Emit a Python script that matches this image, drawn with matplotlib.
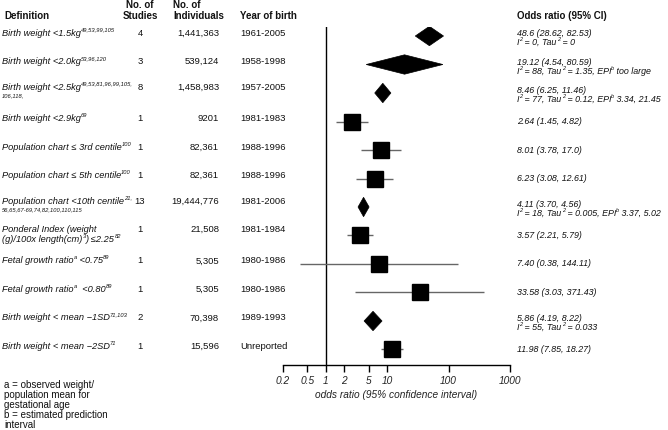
import re
import matplotlib
matplotlib.use("Agg")
import matplotlib.pyplot as plt
import matplotlib.transforms as mtransforms
from matplotlib.patches import Polygon
import numpy as np

# ---------------- data ----------------
definitions = [
    "Birth weight <1.5kg^{49,53,99,105}",
    "Birth weight <2.0kg^{53,96,120}",
    "Birth weight <2.5kg^{49,53,81,96,99,105,}",
    "Birth weight <2.9kg^{69}",
    "Population chart \u2264 3rd centile^{100}",
    "Population chart \u2264 5th centile^{100}",
    "Population chart <10th centile^{21,}",
    "Ponderal Index (weight",
    "Fetal growth ratio^{a} <0.75^{89}",
    "Fetal growth ratio^{a}  <0.80^{89}",
    "Birth weight < mean \u22121SD^{71,103}",
    "Birth weight < mean \u22122SD^{71}",
]
definitions_line2 = ["", "", "^{106,118,}", "", "", "", "^{56,65,67-69,74,82,100,110,115}",
                     "(g)/100x length(cm)^{3}) \u22642.25^{82}", "", "", "", ""]
n_studies = ["4", "3", "8", "1", "1", "1", "13", "1", "1", "1", "2", "1"]
n_individuals = ["1,441,363", "539,124", "1,458,983", "9201", "82,361", "82,361",
                 "19,444,776", "21,508", "5,305", "5,305", "70,398", "15,596"]
year_of_birth = ["1961-2005", "1958-1998", "1957-2005", "1981-1983", "1988-1996", "1988-1996",
                 "1981-2006", "1981-1984", "1980-1986", "1980-1986", "1989-1993", "Unreported"]
odds_ratio = [48.6, 19.12, 8.46, 2.64, 8.01, 6.23, 4.11, 3.57, 7.40, 33.58, 5.86, 11.98]
ci_low = [28.62, 4.54, 6.25, 1.45, 3.78, 3.08, 3.70, 2.21, 0.38, 3.03, 4.19, 7.85]
ci_high = [82.53, 80.59, 11.46, 4.82, 17.0, 12.61, 4.56, 5.79, 144.11, 371.43, 8.22, 18.27]
or_text = ["48.6 (28.62, 82.53)", "19.12 (4.54, 80.59)", "8.46 (6.25, 11.46)", "2.64 (1.45, 4.82)",
           "8.01 (3.78, 17.0)", "6.23 (3.08, 12.61)", "4.11 (3.70, 4.56)", "3.57 (2.21, 5.79)",
           "7.40 (0.38, 144.11)", "33.58 (3.03, 371.43)", "5.86 (4.19, 8.22)", "11.98 (7.85, 18.27)"]
heterogeneity = ["I^{2} = 0, Tau^{2} = 0",
                 "I^{2} = 88, Tau^{2} = 1.35, EPI^{b} too large",
                 "I^{2} = 77, Tau^{2} = 0.12, EPI^{b} 3.34, 21.45",
                 "", "", "",
                 "I^{2} = 18, Tau^{2} = 0.005, EPI^{b} 3.37, 5.02",
                 "", "", "",
                 "I^{2} = 55, Tau^{2} = 0.033",
                 ""]
is_pooled = [True, True, True, False, False, False, True, False, False, False, True, False]
x_ticks = [0.2, 0.5, 1, 2, 5, 10, 100, 1000]
x_tick_labels = ["0.2", "0.5", "1", "2", "5", "10", "100", "1000"]
footnotes = ["a = observed weight/", "population mean for", "gestational age",
             "b = estimated prediction", "interval"]

# ---------------- figure ----------------
plt.rcParams['font.family'] = ['Liberation Sans', 'DejaVu Sans']
W, H = 668, 430
fig = plt.figure(figsize=(W / 100, H / 100), dpi=100)
ident = mtransforms.IdentityTransform()
renderer = fig.canvas.get_renderer()

LABEL_FS = 6.7
NUM_FS = 6.8
RIGHT_FS = 6.4
TXT = '#111111'

nrows = len(definitions)
ax = fig.add_axes([283 / W, 1 - 365 / H, (510 - 283) / W, (365 - 27) / H])
ax.set_xscale('log')
ax.set_xlim(0.2, 1000)
ax.set_ylim(11.544, -0.316)
for s in ['top', 'right', 'left']:
    ax.spines[s].set_visible(False)
ax.spines['bottom'].set_linewidth(1.0)
ax.set_yticks([])
ax.set_xticks(x_ticks)
ax.set_xticklabels(x_tick_labels, fontstyle='italic', fontsize=7.3, color='#222222')
ax.xaxis.set_minor_locator(matplotlib.ticker.NullLocator())
ax.tick_params(axis='x', direction='out', length=5, width=1.0, pad=3)
ax.set_xlabel("odds ratio (95% confidence interval)", fontstyle='italic', fontsize=7.3,
              color='#222222', labelpad=3)
ax.axvline(1, color='black', lw=1.0)

diamond_half_h = 0.34
min_half_w = 0.09  # decades
for i in range(nrows):
    est, lo, hi = odds_ratio[i], ci_low[i], ci_high[i]
    if is_pooled[i]:
        le, ll, lh = np.log10(est), np.log10(lo), np.log10(hi)
        ll = min(ll, le - min_half_w)
        lh = max(lh, le + min_half_w)
        pts = [(10 ** ll, i), (est, i - diamond_half_h), (10 ** lh, i), (est, i + diamond_half_h)]
        ax.add_patch(Polygon(pts, closed=True, facecolor='black', edgecolor='black', lw=0.5))
    else:
        ax.plot([lo, hi], [i, i], color='#666666', lw=1.0, solid_capstyle='butt', zorder=2)
        ax.plot([est], [i], marker='s', markersize=11.5, color='black', markeredgecolor='black',
                zorder=3, clip_on=False)


def rich_text(x, y, markup, size=LABEL_FS, style='italic', weight='normal', color=TXT):
    parts = re.split(r'(\^\{[^}]*\})', markup)
    cx = x
    for p in parts:
        if not p:
            continue
        if p.startswith('^{'):
            t = fig.text(cx, y + 3.0, p[2:-1], transform=ident, fontsize=size * 0.62,
                         fontstyle=style, fontweight=weight, color=color, va='center', ha='left')
        else:
            t = fig.text(cx, y, p, transform=ident, fontsize=size, fontstyle=style,
                         fontweight=weight, color=color, va='center', ha='left')
        cx += t.get_window_extent(renderer=renderer).width


def ytop(px):
    return H - px


# headers
hdr = dict(fontsize=7.0, fontweight='bold', color=TXT, va='center', transform=ident)
fig.text(4, ytop(16), "Definition", ha='left', **hdr)
fig.text(140, ytop(5.5), "No. of", ha='center', **hdr)
fig.text(140, ytop(16), "Studies", ha='center', **hdr)
fig.text(173, ytop(5.5), "No. of", ha='left', **hdr)
fig.text(173, ytop(16), "Individuals", ha='left', **hdr)
fig.text(240, ytop(16), "Year of birth", ha='left', **hdr)
fig.text(517, ytop(16), "Odds ratio (95% CI)", ha='left', **hdr)

num = dict(fontsize=NUM_FS, color=TXT, va='center', transform=ident)
for i in range(nrows):
    ry = ax.transData.transform((1, i))[1]
    two = definitions_line2[i] != ""
    y1 = ry + (6 if two else 3)
    rich_text(2, y1, definitions[i])
    if two:
        l2 = definitions_line2[i]
        if l2.startswith('^{') and l2.endswith('}') and l2.count('^{') == 1:
            fig.text(2, y1 - 9, l2[2:-1], transform=ident, fontsize=LABEL_FS * 0.62,
                     fontstyle='italic', color=TXT, va='center')
        else:
            rich_text(2, y1 - 10, l2)
    fig.text(140, y1, n_studies[i], ha='center', **num)
    fig.text(219, y1, n_individuals[i], ha='right', **num)
    fig.text(240, y1, year_of_birth[i], ha='left', **num)
    if heterogeneity[i]:
        rich_text(517, ry + 2.5, or_text[i], size=RIGHT_FS)
        rich_text(517, ry - 6.5, heterogeneity[i], size=RIGHT_FS)
    else:
        rich_text(517, ry, or_text[i], size=RIGHT_FS)

for k, line in enumerate(footnotes):
    fig.text(4, ytop(385 + 10 * k), line, transform=ident, fontsize=7.0, color=TXT,
             va='center', ha='left')

fig.savefig("out.png", dpi=100, facecolor='white')
